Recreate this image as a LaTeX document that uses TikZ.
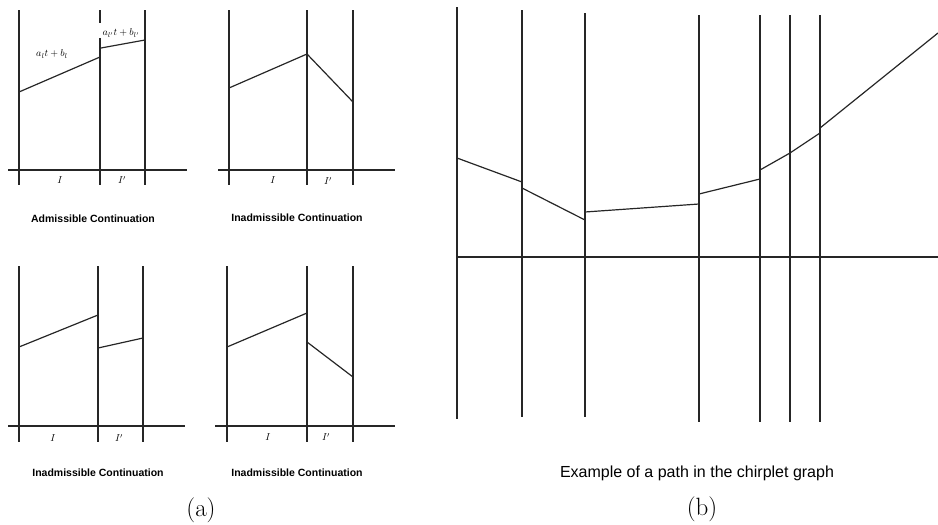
\documentclass[tikz,border=0pt]{standalone}
\usepackage{fontspec}
\newfontfamily\capfont{Liberation Sans}
\tikzset{
  vline/.style={line width=1.5pt, draw=black!85},
  axis/.style={line width=1.5pt, draw=black!85},
  seg/.style={line width=1.2pt, draw=black!85},
  smallcap/.style={font=\capfont\bfseries\fontsize{10.5}{12}\selectfont, inner sep=0pt},
  bigcap/.style={font=\capfont\fontsize{16}{18}\selectfont, inner sep=0pt},
  tick/.style={font=\fontsize{10}{12}\selectfont, inner sep=0pt},
  lbl/.style={font=\fontsize{10}{12}\selectfont, inner sep=0pt},
  sub/.style={font=\fontsize{25}{28}\selectfont, inner sep=0pt}
}
\begin{document}
\begin{tikzpicture}[x=1pt,y=-1pt]
\useasboundingbox (0,0) rectangle (938,525);

% ---------- Panel (a) top-left ----------
\draw[axis] (8,170) -- (187,170);
\draw[vline] (19,10) -- (19,185);
\draw[vline] (100,10) -- (100,23);
\draw[vline] (100,38) -- (100,185);
\draw[vline] (145,10) -- (145,185);
\draw[seg] (19,92) -- (100,57);
\draw[seg] (101,48) -- (145,40);
\node[lbl] (l1) at (52,54) {$a_l t + b_l$};
\node[lbl] (l2) at (121,33) {$a_{l'} t + b_{l'}$};
\node[tick] (t1) at (60,180) {$I$};
\node[tick] (t2) at (122,180) {$I'$};
\node[smallcap] (c1) at (93,219) {Admissible Continuation};

% ---------- Panel (a) top-right ----------
\draw[axis] (218,170) -- (395,170);
\draw[vline] (229,10) -- (229,185);
\draw[vline] (307,10) -- (307,185);
\draw[vline] (353,10) -- (353,185);
\draw[seg] (229,88) -- (307,54) -- (353,102);
\node[tick] (t3) at (273,180) {$I$};
\node[tick] (t4) at (328,181) {$I'$};
\node[smallcap] (c2) at (297,218) {Inadmissible Continuation};

% ---------- Panel (a) bottom-left ----------
\draw[axis] (8,426) -- (185,426);
\draw[vline] (19,266) -- (19,442);
\draw[vline] (98,266) -- (98,442);
\draw[vline] (143,266) -- (143,442);
\draw[seg] (19,347) -- (98,315);
\draw[seg] (98,348) -- (143,338);
\node[tick] (t5) at (53,438) {$I$};
\node[tick] (t6) at (119,438) {$I'$};
\node[smallcap] (c3) at (98,473) {Inadmissible Continuation};

% ---------- Panel (a) bottom-right ----------
\draw[axis] (215,426) -- (395,426);
\draw[vline] (227,266) -- (227,442);
\draw[vline] (307,266) -- (307,442);
\draw[vline] (353,266) -- (353,442);
\draw[seg] (227,347) -- (307,313);
\draw[seg] (307,342) -- (353,377);
\node[tick] (t7) at (268,437) {$I$};
\node[tick] (t8) at (326,437) {$I'$};
\node[smallcap] (c4) at (297,473) {Inadmissible Continuation};

\node[sub] (a) at (201,510) {(a)};

% ---------- Panel (b) ----------
\draw[axis] (457,257) -- (938,257);
\draw[vline] (457,7) -- (457,419);
\draw[vline] (522,10) -- (522,417);
\draw[vline] (585,13) -- (585,417);
\draw[vline] (699,15) -- (699,422);
\draw[vline] (760,15) -- (760,422);
\draw[vline] (790,15) -- (790,422);
\draw[vline] (820,15) -- (820,422);
\draw[seg] (457,158) -- (522,182);
\draw[seg] (522,188) -- (585,220);
\draw[seg] (585,212) -- (699,204);
\draw[seg] (699,194) -- (760,179);
\draw[seg] (760,170) -- (790,153) -- (820,133);
\draw[seg] (820,128) -- (938,33);
\node[bigcap] (c5) at (697,473) {Example of a path in the chirplet graph};
\node[sub] (b) at (702,509) {(b)};
\end{tikzpicture}
\end{document}
